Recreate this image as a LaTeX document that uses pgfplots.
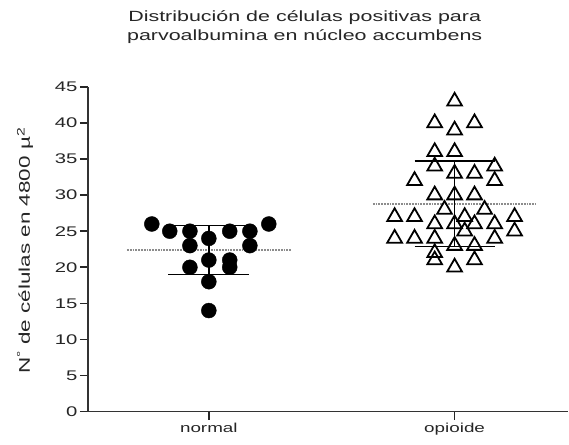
\documentclass[border=0pt]{standalone}
\usepackage{pgfplots}
\pgfplotsset{compat=1.18}
\usepackage{fontspec}
\setmainfont{Liberation Sans}[FakeStretch=1.45]

% normal group: circles
\pgfplotstableread{
x y
0.768 26
1.244 26
0.841 25
0.923 25
1.085 25
1.167 25
1.000 24
0.923 23
1.167 23
1.000 21
1.085 21
0.923 20
1.085 20
1.000 18
1.000 14
}\normal

% opioide group: open triangles
\pgfplotstableread{
x y
2.000 43
1.919 40
2.081 40
2.000 39
1.919 36
2.000 36
1.919 34
2.163 34
2.000 33
2.081 33
1.837 32
2.163 32
1.919 30
2.000 30
2.081 30
1.959 28
2.122 28
1.756 27
1.837 27
2.041 27
2.244 27
1.919 26
2.000 26
2.081 26
2.163 26
2.244 25
2.041 25
1.756 24
1.837 24
1.919 24
2.163 24
2.000 23
2.081 23
1.919 22
1.919 21
2.081 21
2.000 20
}\opioide

\begin{document}
\begin{tikzpicture}
\begin{axis}[
  scale only axis,
  width=481pt, height=325pt,
  xmin=0.508, xmax=2.463,
  ymin=0, ymax=45,
  axis lines=left,
  axis line style={-, line width=1.2pt, black!80},
  xtick={1,2},
  xticklabels={normal,opioide},
  ytick={0,5,...,45},
  tick align=outside,
  major tick length=8pt,
  tick style={line width=1.6pt, black!85},
  /pgf/number format/assume math mode=true,
  yticklabel style={font=\fontsize{14}{16}\selectfont, text=black!85, xshift=1pt},
  xticklabel style={font=\fontsize{13}{15}\selectfont, text=black!85},
  clip=false,
]
% mean lines (dotted) and SD bars
\addplot[densely dotted, line width=1.8pt, black!45] coordinates {(0.667,22.4) (1.333,22.4)};
\addplot[densely dotted, line width=1.8pt, black!45] coordinates {(1.667,28.8) (2.333,28.8)};
\addplot[line width=1.5pt, black] coordinates {(0.835,25.8) (1.165,25.8)};
\addplot[line width=1.5pt, black] coordinates {(0.835,19.0) (1.165,19.0)};
\addplot[line width=1.5pt, black] coordinates {(1,19.0) (1,25.8)};
\addplot[line width=1.5pt, black] coordinates {(1.837,34.7) (2.163,34.7)};
\addplot[line width=1.5pt, black] coordinates {(1.837,22.9) (2.163,22.9)};
\addplot[line width=1.5pt, black] coordinates {(2,22.9) (2,34.7)};
% points
\addplot[only marks, mark=*, mark size=7.5pt, mark options={fill=black, draw=black}] table[x=x,y=y] {\normal};
\addplot[only marks, mark=triangle, mark size=8.5pt, mark options={fill=white, draw=black, line width=1.8pt}] table[x=x,y=y] {\opioide};
\end{axis}
% title and y label
\node[align=center, font=\fontsize{14.8}{18.5}\selectfont, text=black!85] at (217pt,385pt)
  {Distribución de células positivas para\\parvoalbumina en núcleo accumbens};
\node[rotate=90, font=\fontsize{15.5}{17}\selectfont, text=black!85] at (-63pt,161pt)
  {N\textsuperscript{°} de células en 4800 µ\textsuperscript{2}};
\path (-88pt,-33pt) rectangle (481pt,412pt);
\end{tikzpicture}
\end{document}
